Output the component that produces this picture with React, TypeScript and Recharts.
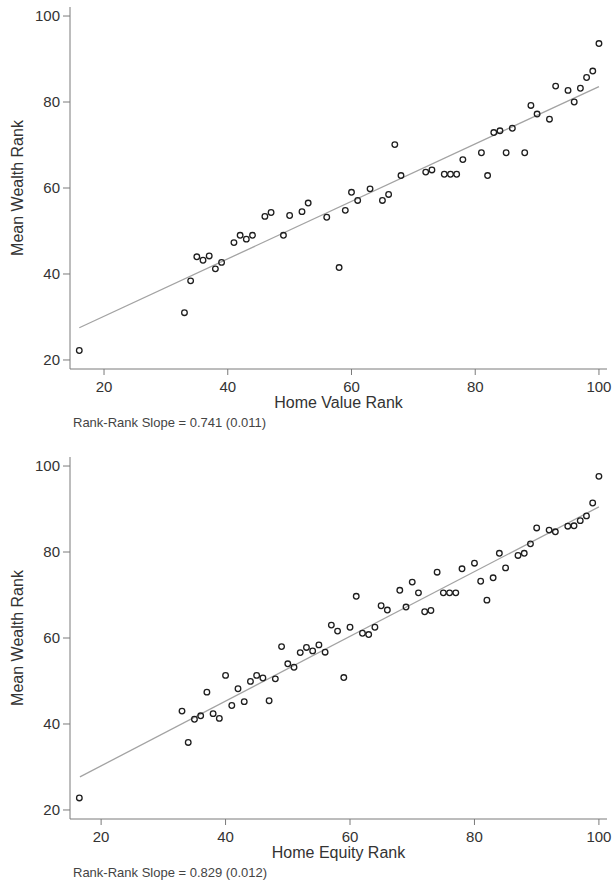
import { ScatterChart, Scatter, XAxis, YAxis, ReferenceLine } from 'recharts';

// Home value rank panel
const valueRank = [16, 33, 34, 35, 36, 37, 38, 39, 41, 42, 43, 44, 46, 47, 49, 50, 52, 53, 56, 58, 59, 60, 61, 63, 65, 66, 67, 68, 72, 73, 75, 76, 77, 78, 81, 82, 83, 84, 85, 86, 88, 89, 90, 92, 93, 95, 96, 97, 98, 99, 100];
const valueWealth = [22.2, 31.0, 38.4, 44.0, 43.2, 44.2, 41.2, 42.7, 47.3, 49.0, 48.1, 49.0, 53.4, 54.3, 49.0, 53.6, 54.5, 56.5, 53.2, 41.5, 54.8, 59.0, 57.1, 59.8, 57.1, 58.5, 70.1, 62.9, 63.7, 64.2, 63.2, 63.2, 63.2, 66.6, 68.2, 62.9, 72.9, 73.3, 68.2, 73.9, 68.2, 79.2, 77.2, 76.0, 83.7, 82.7, 80.0, 83.2, 85.7, 87.2, 93.6];
const valueFitX = [16, 100];
const valueFitY = [27.5, 83.6];

// Home equity rank panel
const equityRank = [16.5, 33, 34, 35, 36, 37, 38, 39, 40, 41, 42, 43, 44, 45, 46, 47, 48, 49, 50, 51, 52, 53, 54, 55, 56, 57, 58, 59, 60, 61, 62, 63, 64, 65, 66, 68, 69, 70, 71, 72, 73, 74, 75, 76, 77, 78, 80, 81, 82, 83, 84, 85, 87, 88, 89, 90, 92, 93, 95, 96, 97, 98, 99, 100];
const equityWealth = [22.8, 43.0, 35.7, 41.1, 41.9, 47.4, 42.4, 41.3, 51.3, 44.3, 48.2, 45.2, 49.9, 51.3, 50.7, 45.4, 50.5, 58.0, 54.0, 53.2, 56.6, 57.8, 57.0, 58.4, 56.7, 63.0, 61.6, 50.8, 62.5, 69.7, 61.1, 60.8, 62.5, 67.5, 66.5, 71.1, 67.2, 73.0, 70.5, 66.1, 66.4, 75.3, 70.5, 70.5, 70.5, 76.1, 77.4, 73.2, 68.8, 74.0, 79.7, 76.3, 79.2, 79.7, 81.9, 85.6, 85.1, 84.7, 86.0, 86.1, 87.3, 88.4, 91.4, 97.6];
const equityFitX = [16.6, 100];
const equityFitY = [27.7, 90.5];

const ticks = [20, 40, 60, 80, 100];
const FONT = '"Liberation Sans", Arial, sans-serif';

const Ring = (props: any) => (
  <circle cx={props.cx} cy={props.cy} r={2.8} fill="none" stroke="#1e1e1e" strokeWidth={1.3} />
);

interface PanelProps {
  xs: number[];
  ys: number[];
  fitX: number[];
  fitY: number[];
  xMin: number;
  xLabel: string;
  caption: string;
  height: number;
}

function Panel({ xs, ys, fitX, fitY, xMin, xLabel, caption, height }: PanelProps) {
  const points = xs.map((x, i) => ({ x, y: ys[i] }));
  return (
    <div style={{ position: 'relative', width: 612, height }}>
      <ScatterChart width={612} height={height} margin={{ top: 7, right: 5, bottom: height - 408, left: 0 }}>
        <XAxis
          type="number"
          dataKey="x"
          domain={[xMin, 101.3]}
          ticks={ticks}
          allowDataOverflow
          height={39}
          tickSize={6}
          tickMargin={6}
          stroke="#7a7a7a"
          tick={{ fill: '#333', fontSize: 15, fontFamily: FONT }}
          label={{ value: xLabel, position: 'insideBottom', offset: 0, fill: '#333', fontSize: 16, fontFamily: FONT }}
        />
        <YAxis
          type="number"
          dataKey="y"
          domain={[17.9, 102.1]}
          ticks={ticks}
          allowDataOverflow
          width={70}
          tickSize={7}
          tickMargin={3}
          stroke="#7a7a7a"
          tick={{ fill: '#333', fontSize: 15, fontFamily: FONT }}
          label={{ value: 'Mean Wealth Rank', angle: -90, position: 'insideLeft', offset: 17, fill: '#333', fontSize: 16, fontFamily: FONT, style: { textAnchor: 'middle' } }}
        />
        <ReferenceLine
          segment={[{ x: fitX[0], y: fitY[0] }, { x: fitX[1], y: fitY[1] }]}
          stroke="#a3a3a3"
          strokeWidth={1.3}
        />
        <Scatter data={points} shape={Ring} isAnimationActive={false} />
      </ScatterChart>
      <div style={{ position: 'absolute', left: 73, top: 416, fontFamily: FONT, fontSize: 13, lineHeight: '13px', color: '#444', whiteSpace: 'nowrap' }}>
        {caption}
      </div>
    </div>
  );
}

export default function App() {
  return (
    <div style={{ position: 'absolute', left: 0, top: 0, width: 612, height: 884, background: '#fff', overflow: 'hidden' }}>
      <Panel xs={valueRank} ys={valueWealth} fitX={valueFitX} fitY={valueFitY} xMin={14.5} xLabel="Home Value Rank" caption="Rank-Rank Slope = 0.741 (0.011)" height={450} />
      <Panel xs={equityRank} ys={equityWealth} fitX={equityFitX} fitY={equityFitY} xMin={15.0} xLabel="Home Equity Rank" caption="Rank-Rank Slope = 0.829 (0.012)" height={434} />
    </div>
  );
}
